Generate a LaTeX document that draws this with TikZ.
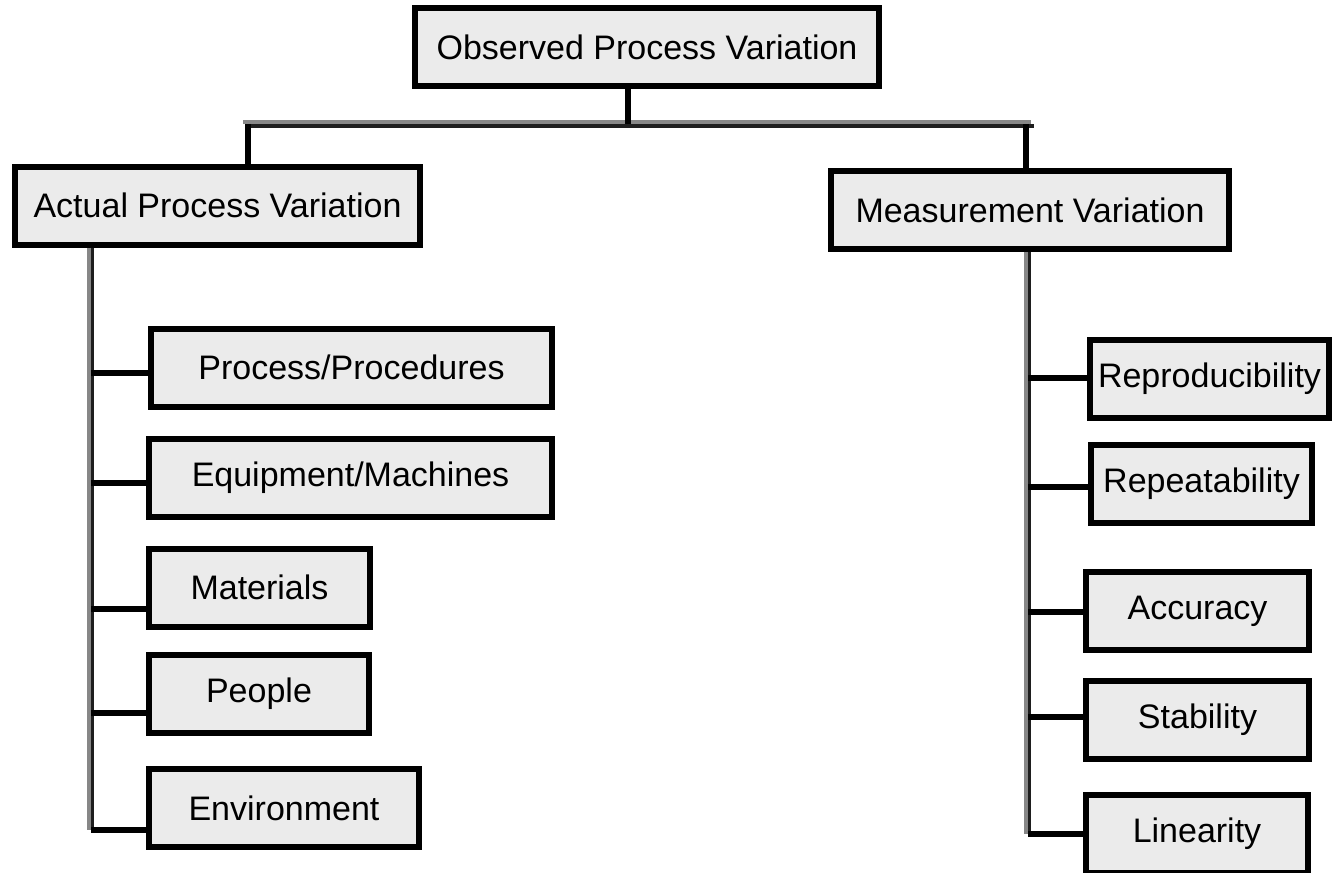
\documentclass[tikz,border=0pt]{standalone}
\usepackage{fontspec}
\setmainfont{Liberation Sans}
\usetikzlibrary{positioning}
\definecolor{boxgrey}{RGB}{235,235,235}
\definecolor{railgrey}{RGB}{135,135,135}
\definecolor{raildark}{RGB}{30,30,30}

\begin{document}
\begin{tikzpicture}[x=1pt, y=-1pt,
    varbox/.style={rectangle, draw=black, fill=boxgrey, line width=6pt, inner sep=0pt,
        minimum height=78pt, font=\fontsize{34}{40}\selectfont},
    link/.style={line width=6pt, black},
    railhi/.style={line width=3.5pt, railgrey},
    raillo/.style={line width=3.5pt, raildark},
]
    \useasboundingbox (0,0) rectangle (1332,872);

    \node[varbox, minimum width=464pt] (obs) at (647,47.5) {Observed Process Variation};
    \node[varbox, minimum width=405pt] (act) at (217.5,205.5) {Actual Process Variation};
    \node[varbox, minimum width=398pt] (meas) at (1030,210) {Measurement Variation};

    \node[varbox, minimum width=401pt] (proc) at (351.5,367.5) {Process/Procedures};
    \node[varbox, minimum width=403pt] (equip) at (350.5,478) {Equipment/Machines};
    \node[varbox, minimum width=221pt] (mat) at (259.5,587.5) {Materials};
    \node[varbox, minimum width=220pt] (peop) at (259,693.5) {People};
    \node[varbox, minimum width=270pt] (env) at (284,808) {Environment};

    \node[varbox, minimum width=239pt] (repro) at (1209.5,378.5) {Reproducibility};
    \node[varbox, minimum width=221pt] (repea) at (1201.5,484) {Repeatability};
    \node[varbox, minimum width=223pt] (acc) at (1197.5,611) {Accuracy};
    \node[varbox, minimum width=223pt] (stab) at (1197.5,720) {Stability};
    \node[varbox, minimum width=222pt] (lin) at (1197,834) {Linearity};

    \coordinate (stem) at (628,124);
    \coordinate (drop-l) at (248,124);
    \coordinate (drop-r) at (1026,124);
    \draw[railhi] (243,122) -- (1031,122);
    \draw[raillo] (248,126) -- (1034,126);
    \draw[link] (obs.south -| stem) -- (stem);
    \draw[link] (drop-l) -- (drop-l |- act.north);
    \draw[link] (drop-r) -- (drop-r |- meas.north);

    \coordinate (rail-l) at (91,830);
    \coordinate (rail-r) at (1028,834);
    \draw[railhi] ([xshift=-2pt]rail-l |- act.south) -- ([xshift=-2pt]rail-l);
    \draw[raillo] ([xshift=1.5pt]rail-l |- act.south) -- ([xshift=1.5pt]rail-l);
    \draw[railhi] ([xshift=-2pt]rail-r |- meas.south) -- ([xshift=-2pt]rail-r);
    \draw[raillo] ([xshift=1.5pt]rail-r |- meas.south) -- ([xshift=1.5pt]rail-r);

    \foreach \b/\y in {proc/373, equip/483, mat/609, peop/713, env/830} {
        \coordinate (tap-\b) at (91,\y);
        \draw[link] (tap-\b) -- (tap-\b -| \b.west);
    }
    \foreach \b/\y in {repro/378, repea/487, acc/612, stab/717, lin/834} {
        \coordinate (tap-\b) at (1028,\y);
        \draw[link] (tap-\b) -- (tap-\b -| \b.west);
    }
\end{tikzpicture}
\end{document}
